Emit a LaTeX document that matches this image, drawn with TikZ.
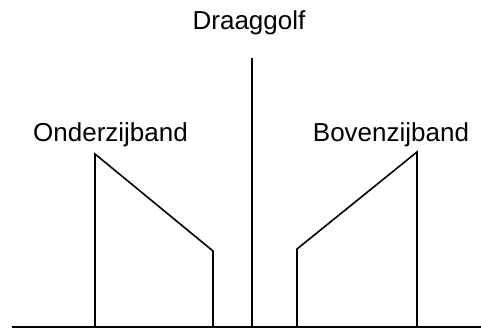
\documentclass[tikz,border=0pt]{standalone}
\usepackage{fontspec}
\setmainfont{Liberation Sans}
\usepackage{tikz}
\usetikzlibrary{positioning}
\tikzstyle{tag} = [
    inner sep=0pt,
    anchor=base,
    font=\fontsize{26}{30}\selectfont,
]
\tikzstyle{line} = [
    line width=1.6pt,
    line join=miter,
]

\begin{document}
\begin{tikzpicture}[x=1pt,y=1pt]
    \useasboundingbox (0,0) rectangle (481,329);

    % axis
    \coordinate (axisL) at (12,2);
    \coordinate (axisR) at (481,2);
    \draw [line] (axisL) -- (axisR);

    % carrier
    \coordinate (carrier) at (252,2);
    \coordinate (carrierTop) at (252,271);
    \draw [line] (carrier) -- (carrierTop);

    % lower sideband
    \coordinate (lsbA) at (95,2);
    \coordinate (lsbB) at (95,175);
    \coordinate (lsbC) at (213,78);
    \coordinate (lsbD) at (213,2);
    \draw [line] (lsbA) -- (lsbB) -- (lsbC) -- (lsbD);

    % upper sideband
    \coordinate (usbA) at (297,2);
    \coordinate (usbB) at (297,80);
    \coordinate (usbC) at (417,177);
    \coordinate (usbD) at (417,2);
    \draw [line] (usbA) -- (usbB) -- (usbC) -- (usbD);

    % labels
    \node (draaggolf) at (249,299) [tag] {Draaggolf};
    \node (onder) at (110.5,187) [tag] {Onderzijband};
    \node (boven) at (391,187) [tag] {Bovenzijband};
\end{tikzpicture}
\end{document}
